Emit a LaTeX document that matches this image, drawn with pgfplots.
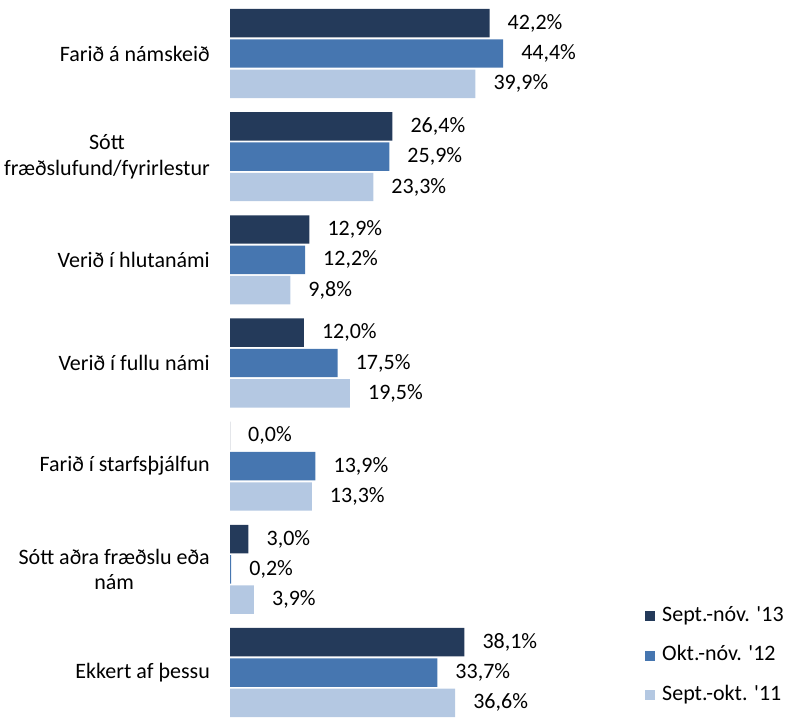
\documentclass[border=0pt]{standalone}
\usepackage{fontspec}
\setmainfont{Carlito}
\newfontfamily\plainfont{Carlito}
\usepackage{pgfplots}
\pgfplotsset{compat=1.18}
\definecolor{serA}{HTML}{243A5A}
\definecolor{serB}{HTML}{4676B0}
\definecolor{serC}{HTML}{B4C8E2}

\begin{document}
\begin{tikzpicture}[x=1pt,y=1pt]
\path[use as bounding box] (0,0) rectangle (795,718);
\begin{axis}[at={(230pt,0pt)}, anchor=south west,
  width=565pt, height=718pt, scale only axis,
  xbar, y dir=reverse,
  xmin=0, xmax=91.87, ymin=-0.5186, ymax=6.441,
  axis line style={draw=none}, major tick length=0pt,
  xtick=\empty, ytick={0,...,6},
  yticklabels={Farið á námskeið, {Sótt\\fræðslufund/fyrirlestur}, Verið í hlutanámi,
    Verið í fullu námi, Farið í starfsþjálfun, {Sótt aðra fræðslu eða\\nám}, Ekkert af þessu},
  font=\fontsize{22}{25.5}\selectfont,
  yticklabel style={align=center, inner sep=0pt, xshift=-20pt, font=\fontsize{22}{25.5}\selectfont},
  bar width=0.276,
  nodes near coords={\pgfmathprintnumber[fixed, fixed zerofill, precision=1, use comma, assume math mode=true]{\pgfplotspointmeta}\%},
  nodes near coords style={anchor=west, inner sep=0pt, xshift=18pt, text=black, font=\fontsize{22}{25.5}\selectfont},
  legend style={draw=none, fill=none, anchor=north west, at={(axis description cs:0.7345,0.157)},
    inner sep=0pt, row sep=17.5pt, font=\fontsize{22}{25.5}\plainfont,
    nodes={text height=14pt, text depth=4pt, inner sep=2pt},
    /tikz/every odd column/.append style={column sep=5pt}},
  legend cell align=left,
  legend image code/.code={\fill[#1, draw=none] (0pt,-5pt) rectangle (10pt,5pt);},
]
\addplot[fill=serA, draw=none, bar shift=-0.294] coordinates {(42.2,0) (26.4,1) (12.9,2) (12.0,3) (0.0,4) (3.0,5) (38.1,6)};
\addlegendentry{Sept.-nóv. '13}
\addplot[fill=serB, draw=none, bar shift=0] coordinates {(44.4,0) (25.9,1) (12.2,2) (17.5,3) (13.9,4) (0.2,5) (33.7,6)};
\addlegendentry{Okt.-nóv. '12}
\addplot[fill=serC, draw=none, bar shift=0.294] coordinates {(39.9,0) (23.3,1) (9.8,2) (19.5,3) (13.3,4) (3.9,5) (36.6,6)};
\addlegendentry{Sept.-okt. '11}
\end{axis}
\end{tikzpicture}
\end{document}
